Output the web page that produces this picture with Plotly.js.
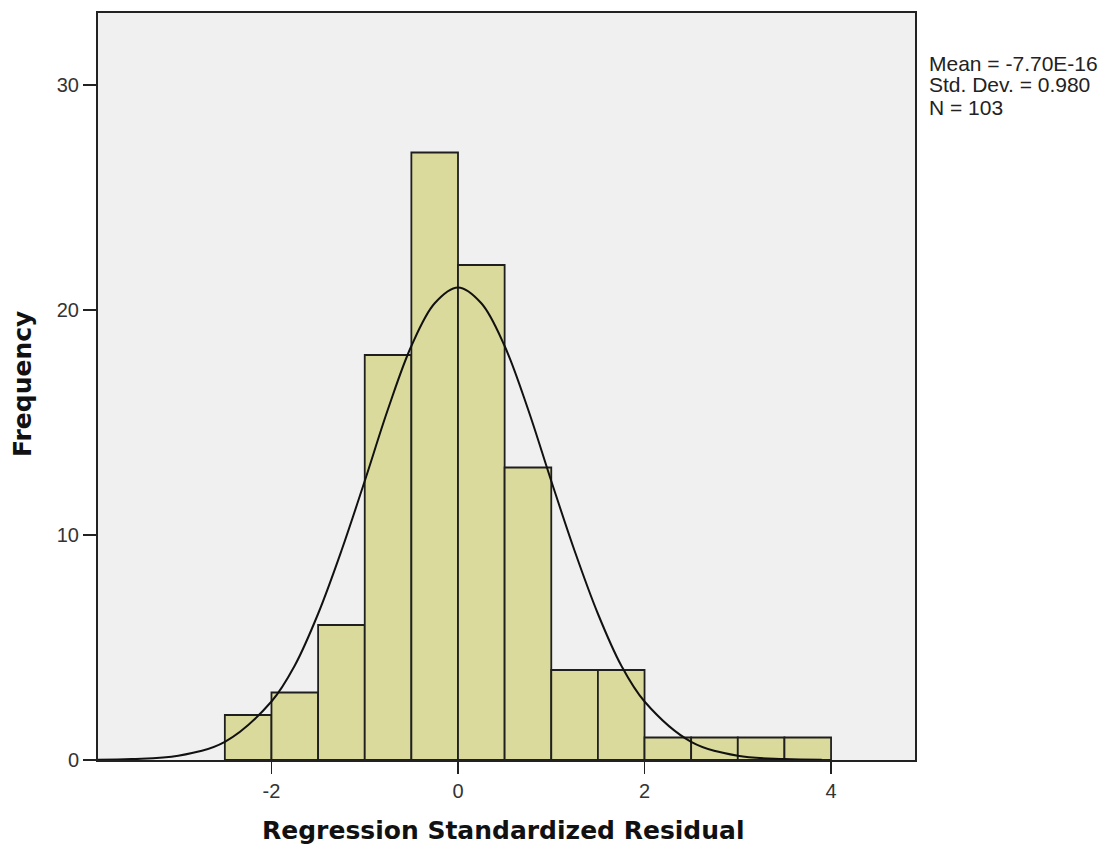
<!DOCTYPE html>
<html>
<head>
<meta charset="utf-8">
<script src="https://cdn.plot.ly/plotly-3.0.1.min.js"></script>
<style>html,body{margin:0;padding:0;background:#fff;}#chart{width:1104px;height:852px;}</style>
</head>
<body>
<div id="chart"></div>
<script>
// Histogram bins (left edge) and frequencies
const binStarts = [-2.5, -2.0, -1.5, -1.0, -0.5, 0.0, 0.5, 1.0, 1.5, 2.0, 2.5, 3.0, 3.5];
const binWidth = 0.5;
const counts = [2, 3, 6, 18, 27, 22, 13, 4, 4, 1, 1, 1, 1];

// Normal curve
const curveX = [-3.86, -3.5, -3.0, -2.5, -2.0, -1.75, -1.5, -1.25, -1.0, -0.75, -0.5, -0.25, 0.0, 0.25, 0.5, 0.75, 1.0, 1.25, 1.5, 1.75, 2.0, 2.5, 3.0, 3.5, 3.9];
const curveY = [0.01, 0.04, 0.19, 0.81, 2.6, 4.2, 6.5, 9.3, 12.4, 15.6, 18.4, 20.3, 21.0, 20.3, 18.4, 15.6, 12.4, 9.3, 6.5, 4.2, 2.6, 0.81, 0.19, 0.04, 0.01];

const statsLines = ["Mean = -7.70E-16", "Std. Dev. = 0.980", "N = 103"];
const xTickVals = [-2, 0, 2, 4];
const yTickVals = [0, 10, 20, 30];

const barX = binStarts.map(s => s + binWidth / 2);

const traces = [
  {
    type: 'bar',
    x: barX,
    y: counts,
    width: binWidth,
    marker: {color: '#DADA9C', line: {color: '#1f1f1f', width: 1.8}},
    hoverinfo: 'x+y'
  },
  {
    type: 'scatter',
    mode: 'lines',
    x: curveX,
    y: curveY,
    line: {color: '#111', width: 2, shape: 'spline', smoothing: 1},
    hoverinfo: 'skip'
  }
];

const L = 98, R = 915, T = 13, B = 760;
const px = x => (x - L) / (R - L);
const py = y => (B - y) / (B - T);

const annotations = [
  {
    xref: 'paper', yref: 'paper',
    x: px(503), y: py(830),
    xanchor: 'center', yanchor: 'middle',
    text: '<b>Regression Standardized Residual</b>',
    showarrow: false,
    font: {size: 25, color: '#111', family: 'DejaVu Sans, sans-serif'}
  },
  {
    xref: 'paper', yref: 'paper',
    x: px(23), y: py(384),
    xanchor: 'center', yanchor: 'middle',
    text: '<b>Frequency</b>',
    textangle: -90,
    showarrow: false,
    font: {size: 25, color: '#111', family: 'DejaVu Sans, sans-serif'}
  }
];
statsLines.forEach((s, i) => {
  annotations.push({
    xref: 'paper', yref: 'paper',
    x: px(927), y: py(63 + i * 22),
    xanchor: 'left', yanchor: 'middle',
    align: 'left',
    text: s,
    showarrow: false,
    font: {size: 21, color: '#222', family: 'Liberation Sans, Arial, sans-serif'}
  });
});

const layout = {
  width: 1104,
  height: 852,
  margin: {l: L, r: 1104 - R, t: T, b: 852 - B},
  paper_bgcolor: '#ffffff',
  plot_bgcolor: '#F0F0F0',
  showlegend: false,
  bargap: 0,
  font: {family: 'Liberation Sans, Arial, sans-serif', color: '#333'},
  xaxis: {
    range: [-3.86, 4.9],
    tickvals: xTickVals,
    ticktext: xTickVals.map(String),
    ticks: 'outside',
    ticklen: 12,
    tickwidth: 1.5,
    tickcolor: '#222',
    showgrid: false,
    zeroline: false,
    showline: true,
    linecolor: '#222',
    linewidth: 2,
    mirror: true,
    tickfont: {size: 20, color: '#333'}
  },
  yaxis: {
    range: [0, 33.2],
    tickvals: yTickVals,
    ticktext: yTickVals.map(String),
    ticks: 'outside',
    ticklen: 13,
    tickwidth: 1.5,
    tickcolor: '#222',
    showgrid: false,
    zeroline: false,
    showline: true,
    linecolor: '#222',
    linewidth: 2,
    mirror: true,
    tickfont: {size: 20, color: '#333'}
  },
  annotations: annotations
};

Plotly.newPlot('chart', traces, layout, {displayModeBar: false, staticPlot: true});
</script>
</body>
</html>
